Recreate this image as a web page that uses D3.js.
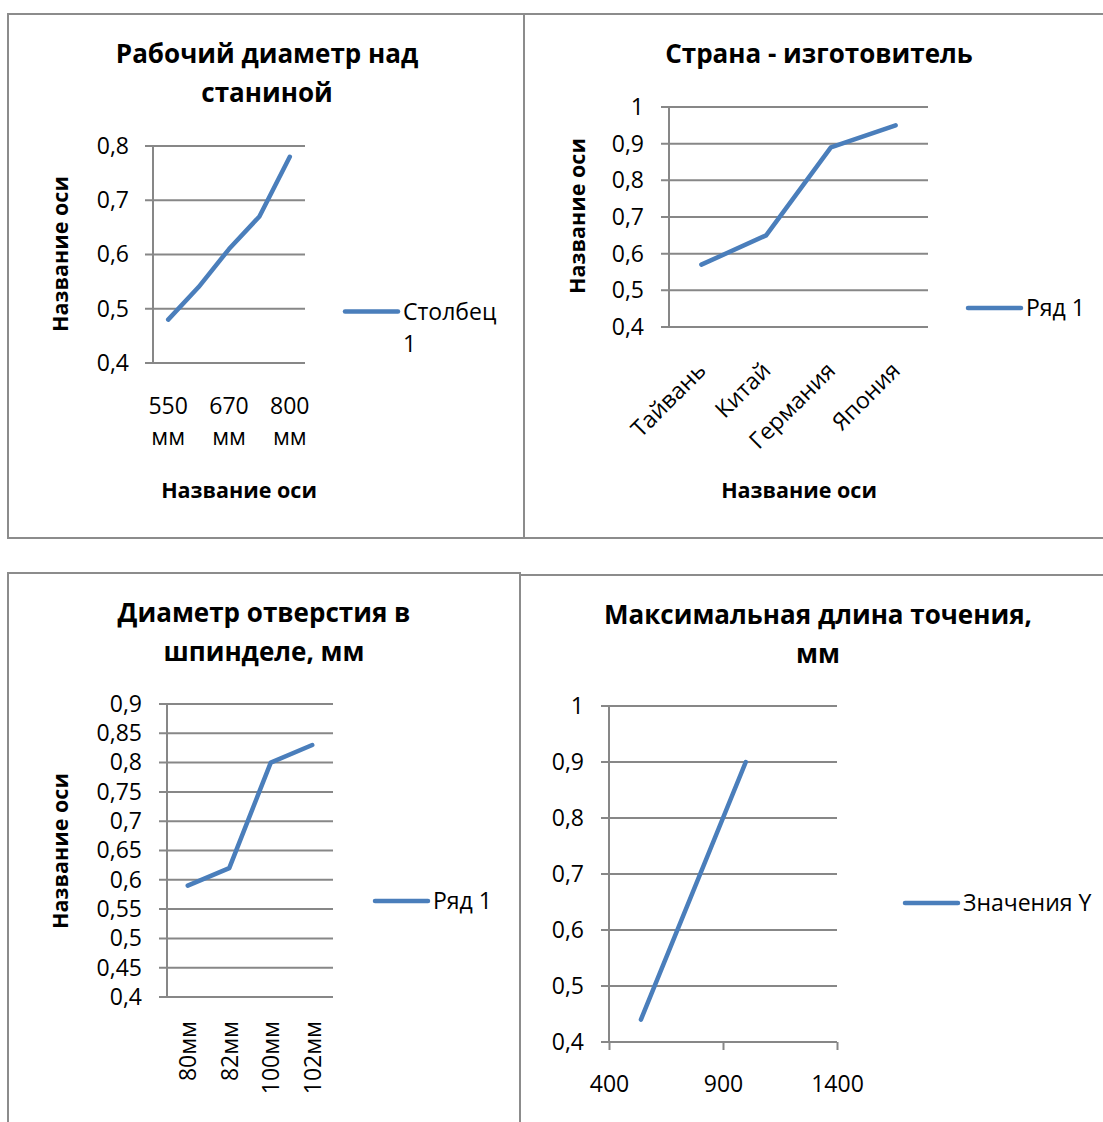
<!DOCTYPE html>
<html lang="ru">
<head>
<meta charset="utf-8">
<script src="https://cdn.jsdelivr.net/npm/d3@7"></script>
<style>
  html, body { margin: 0; padding: 0; background: #fff; }
  svg { display: block; font-family: "Open Sans", "Noto Sans", sans-serif; }
</style>
</head>
<body>
<svg id="chart" width="1103" height="1122"></svg>
<script>
// ---- Data -------------------------------------------------------------
// Рабочий диаметр над станиной
const diamCategories = ["550 мм", "610 мм", "670 мм", "730 мм", "800 мм"];
const diamValues = [0.48, 0.54, 0.61, 0.67, 0.78];
const diamTicks = [0.4, 0.5, 0.6, 0.7, 0.8];

// Страна - изготовитель
const countryCategories = ["Тайвань", "Китай", "Германия", "Япония"];
const countryValues = [0.57, 0.65, 0.89, 0.95];
const countryTicks = [0.4, 0.5, 0.6, 0.7, 0.8, 0.9, 1];

// Диаметр отверстия в шпинделе, мм
const boreCategories = ["80мм", "82мм", "100мм", "102мм"];
const boreValues = [0.59, 0.62, 0.80, 0.83];
const boreTicks = [0.4, 0.45, 0.5, 0.55, 0.6, 0.65, 0.7, 0.75, 0.8, 0.85, 0.9];

// Максимальная длина точения, мм (scatter with lines)
const lengthX = [540, 1000];
const lengthY = [0.44, 0.9];
const lengthYTicks = [0.4, 0.5, 0.6, 0.7, 0.8, 0.9, 1];
const lengthXTicks = [400, 900, 1400];

// ---- Styles -----------------------------------------------------------
const GRID = "#878787";
const LINE = "#4a7ebb";
const BORDER = "#8c8c8c";
const TEXT = "#000";
const TITLE_SIZE = 26;
const LABEL_SIZE = 23;
const AXIS_TITLE_SIZE = 21.5;
const fmt = d => String(d).replace(".", ",");

const svg = d3.select("#chart");

// Panel frames
const frames = [
  { x: 8, y: 14, w: 516, h: 524 },
  { x: 524, y: 14, w: 590, h: 524 },
  { x: 8, y: 573, w: 512, h: 560 },
  { x: 520, y: 575, w: 594, h: 560 }
];
svg.append("g").selectAll("rect").data(frames).join("rect")
  .attr("x", d => d.x).attr("y", d => d.y)
  .attr("width", d => d.w).attr("height", d => d.h)
  .attr("fill", "none").attr("stroke", BORDER).attr("stroke-width", 2);

// Generic panel renderer
function drawPanel(cfg) {
  const g = svg.append("g");
  const y = d3.scaleLinear().domain(cfg.yDomain).range([cfg.bottom, cfg.top]);
  const x = cfg.xScale;

  // Title
  const title = g.append("text")
    .attr("text-anchor", "middle").attr("font-weight", "bold")
    .attr("font-size", TITLE_SIZE).attr("fill", TEXT);
  cfg.title.forEach((t, i) => {
    title.append("tspan").attr("x", cfg.titleX).attr("y", cfg.titleY + i * 39).text(t);
  });

  // Horizontal gridlines (with outward tick stubs)
  g.append("g").selectAll("line").data(cfg.yTicks).join("line")
    .attr("x1", cfg.left - 8).attr("x2", cfg.right)
    .attr("y1", d => y(d)).attr("y2", d => y(d))
    .attr("stroke", GRID).attr("stroke-width", 2);

  // Vertical axis line
  g.append("line")
    .attr("x1", cfg.left).attr("x2", cfg.left)
    .attr("y1", y(cfg.yDomain[1])).attr("y2", y(cfg.yDomain[0]))
    .attr("stroke", GRID).attr("stroke-width", 2);

  // Y axis labels through d3.axisLeft
  const yAxis = g.append("g")
    .attr("transform", `translate(${cfg.left},0)`)
    .call(d3.axisLeft(y).tickValues(cfg.yTicks).tickFormat(fmt)
      .tickSize(0).tickPadding(cfg.yLabelGap));
  yAxis.select(".domain").remove();
  yAxis.selectAll("text").attr("font-size", LABEL_SIZE).attr("fill", TEXT)
    .attr("font-family", "'Open Sans', sans-serif");

  // Axis titles
  if (cfg.yTitle) {
    g.append("text")
      .attr("transform", `translate(${cfg.yTitle.x},${cfg.yTitle.y}) rotate(-90)`)
      .attr("text-anchor", "middle").attr("dy", "0.36em")
      .attr("font-weight", "bold").attr("font-size", AXIS_TITLE_SIZE).attr("fill", TEXT)
      .text("Название оси");
  }
  if (cfg.xTitle) {
    g.append("text")
      .attr("x", cfg.xTitle.x).attr("y", cfg.xTitle.y)
      .attr("text-anchor", "middle")
      .attr("font-weight", "bold").attr("font-size", AXIS_TITLE_SIZE).attr("fill", TEXT)
      .text("Название оси");
  }

  // Category / value labels along the x axis
  cfg.drawXLabels(g, x, cfg);

  // Series line
  const line = d3.line().x(d => d[0]).y(d => y(d[1]));
  g.append("path")
    .datum(cfg.points(x))
    .attr("d", line)
    .attr("fill", "none").attr("stroke", LINE).attr("stroke-width", 4.5)
    .attr("stroke-linecap", "round").attr("stroke-linejoin", "round");

  // Legend
  const lg = g.append("g").attr("transform", `translate(${cfg.legend.x},${cfg.legend.y})`);
  lg.append("line").attr("x1", 0).attr("x2", 53).attr("y1", 0).attr("y2", 0)
    .attr("stroke", LINE).attr("stroke-width", 4.5).attr("stroke-linecap", "round");
  const lt = lg.append("text").attr("font-size", LABEL_SIZE).attr("fill", TEXT);
  cfg.legend.lines.forEach((t, i) => {
    lt.append("tspan").attr("x", 58).attr("y", 8 + i * 32).text(t);
  });
}

// 1. Рабочий диаметр над станиной
drawPanel({
  title: ["Рабочий диаметр над", "станиной"], titleX: 267, titleY: 63,
  left: 153, right: 305, top: 146, bottom: 363,
  yDomain: [0.4, 0.8], yTicks: diamTicks, yLabelGap: 24,
  xScale: d3.scalePoint().domain(diamCategories).range([153, 305]).padding(0.5),
  yTitle: { x: 60, y: 254 }, xTitle: { x: 239, y: 498 },
  legend: { x: 345, y: 311.5, lines: ["Столбец", "1"] },
  points: x => diamCategories.map((c, i) => [x(c), diamValues[i]]),
  drawXLabels: (g, x) => {
    const shown = diamCategories.filter((c, i) => i % 2 === 0);
    const t = g.append("g").selectAll("text").data(shown).join("text")
      .attr("text-anchor", "middle").attr("font-size", LABEL_SIZE).attr("fill", TEXT);
    t.append("tspan").attr("x", d => x(d)).attr("y", 414).text(d => d.split(" ")[0]);
    t.append("tspan").attr("x", d => x(d)).attr("y", 445).text(d => d.split(" ")[1]);
  }
});

// 2. Страна - изготовитель
drawPanel({
  title: ["Страна - изготовитель"], titleX: 819, titleY: 63,
  left: 669, right: 928, top: 107, bottom: 327,
  yDomain: [0.4, 1], yTicks: countryTicks, yLabelGap: 25,
  xScale: d3.scalePoint().domain(countryCategories).range([669, 928]).padding(0.5),
  yTitle: { x: 577, y: 216 }, xTitle: { x: 799, y: 498 },
  legend: { x: 968, y: 308, lines: ["Ряд 1"] },
  points: x => countryCategories.map((c, i) => [x(c), countryValues[i]]),
  drawXLabels: (g, x) => {
    g.append("g").selectAll("text").data(countryCategories).join("text")
      .attr("transform", d => `translate(${x(d) + 6},372) rotate(-45)`)
      .attr("text-anchor", "end").attr("font-size", LABEL_SIZE).attr("fill", TEXT)
      .text(d => d);
  }
});

// 3. Диаметр отверстия в шпинделе, мм
drawPanel({
  title: ["Диаметр отверстия в", "шпинделе, мм"], titleX: 264, titleY: 622,
  left: 167, right: 333, top: 704, bottom: 997,
  yDomain: [0.4, 0.9], yTicks: boreTicks, yLabelGap: 25,
  xScale: d3.scalePoint().domain(boreCategories).range([167, 333]).padding(0.5),
  yTitle: { x: 60, y: 851 }, xTitle: null,
  legend: { x: 375, y: 901, lines: ["Ряд 1"] },
  points: x => boreCategories.map((c, i) => [x(c), boreValues[i]]),
  drawXLabels: (g, x) => {
    g.append("g").selectAll("text").data(boreCategories).join("text")
      .attr("transform", d => `translate(${x(d) + 8.5},1021) rotate(-90)`)
      .attr("text-anchor", "end").attr("font-size", LABEL_SIZE).attr("fill", TEXT)
      .text(d => d);
  }
});

// 4. Максимальная длина точения, мм
drawPanel({
  title: ["Максимальная длина точения,", "мм"], titleX: 818, titleY: 624,
  left: 609, right: 837, top: 706, bottom: 1042,
  yDomain: [0.4, 1], yTicks: lengthYTicks, yLabelGap: 25,
  xScale: d3.scaleLinear().domain([400, 1400]).range([609, 837]),
  yTitle: null, xTitle: null,
  legend: { x: 905, y: 903, lines: ["Значения Y"] },
  points: x => lengthX.map((v, i) => [x(v), lengthY[i]]),
  drawXLabels: (g, x) => {
    const ax = g.append("g").attr("transform", "translate(0,1042)")
      .call(d3.axisBottom(x).tickValues(lengthXTicks).tickFormat(d => d)
        .tickSize(8).tickPadding(26));
    ax.select(".domain").remove();
    ax.selectAll("line").attr("stroke", GRID).attr("stroke-width", 2);
    ax.selectAll("text").attr("font-size", LABEL_SIZE).attr("fill", TEXT)
      .attr("font-family", "'Open Sans', sans-serif");
  }
});
</script>
</body>
</html>
